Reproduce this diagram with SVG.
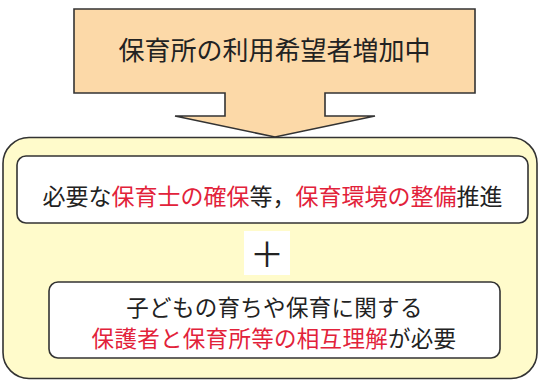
<svg xmlns="http://www.w3.org/2000/svg" width="541" height="382" viewBox="0 0 541 382">
<style>
.t{font-family:"Noto Sans CJK JP","Noto Sans CJK SC",sans-serif;fill:#222;text-anchor:middle}
.r{fill:#E2223A}
.ln{stroke:#333;stroke-width:1.6}
</style>
<rect width="541" height="382" fill="#ffffff"/>
<g id="connectors">
<path id="arrow" class="ln" d="M74,9 H475 V93 H325 V116 H375 L275,137 L175,116 H225 V93 H74 Z" fill="#FCD9A8" stroke-linejoin="miter"/>
</g>
<g id="title">
<text class="t" x="274.5" y="60" font-size="26">保育所の利用希望者増加中</text>
</g>
<g id="panel">
<rect class="ln" x="3" y="137.5" width="534" height="241" rx="26" fill="#FFFBCB"/>
</g>
<g id="box1">
<rect class="ln" x="17" y="156" width="511" height="67" rx="9" fill="#ffffff"/>
<text class="t" x="272.5" y="205" font-size="23">必要な<tspan class="r">保育士の確保</tspan>等，<tspan class="r">保育環境の整備</tspan>推進</text>
</g>
<g id="plus">
<rect x="244" y="231" width="46" height="44" fill="#ffffff"/>
<text class="t" x="267" y="267" font-size="34">＋</text>
</g>
<g id="box2">
<rect class="ln" x="49" y="282" width="451" height="76" rx="9" fill="#ffffff"/>
<text class="t" x="274.5" y="316" font-size="22.5" letter-spacing="0.3">子どもの育ちや保育に関する</text>
<text class="t" x="274" y="347" font-size="22.5" letter-spacing="0.3"><tspan class="r">保護者と保育所等の相互理解</tspan>が必要</text>
</g>
</svg>
